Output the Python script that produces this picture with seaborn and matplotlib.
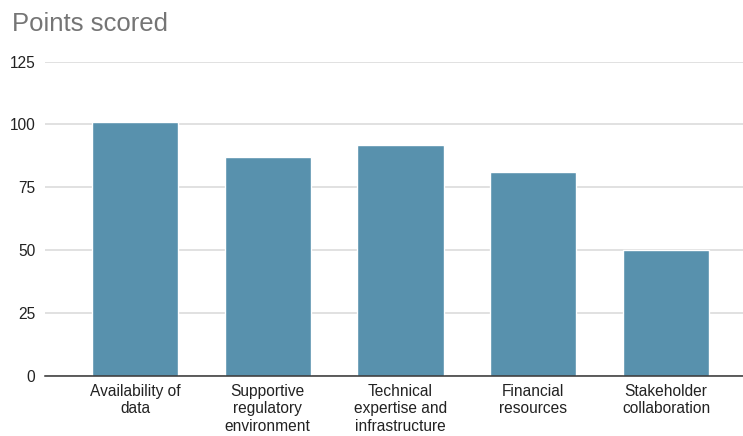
import matplotlib
matplotlib.use("Agg")
import matplotlib.pyplot as plt
import seaborn as sns
import pandas as pd

categories = [
    "Availability of\ndata",
    "Supportive\nregulatory\nenvironment",
    "Technical\nexpertise and\ninfrastructure",
    "Financial\nresources",
    "Stakeholder\ncollaboration",
]
points = [101, 87, 92, 81, 50]
y_ticks = [0, 25, 50, 75, 100, 125]

sns.set_theme(style="white")
plt.rcParams["font.family"] = ["Liberation Sans", "DejaVu Sans"]

df = pd.DataFrame({"category": categories, "points": points})

fig = plt.figure(figsize=(7.43, 4.36), dpi=100)
W, H = 743, 436
ax = fig.add_axes([45 / W, (H - 375.7) / H, (743 - 45) / W, (375.7 - 61.7) / H])

sns.barplot(data=df, x="category", y="points", color="#5891ad", saturation=1,
            width=0.648, ax=ax, zorder=3)

ax.set_xlim(-0.678, 4.58)
ax.set_ylim(0, 125)
ax.set_yticks(y_ticks)
ax.yaxis.grid(True, color="#d9d9d9", linewidth=1.1, zorder=0)
ax.set_axisbelow(True)
for s in ["top", "right", "left"]:
    ax.spines[s].set_visible(False)
ax.spines["bottom"].set_color("#333333")
ax.spines["bottom"].set_linewidth(1.1)
ax.spines["bottom"].set_zorder(4)

ax.set_xlabel("")
ax.set_ylabel("")
ax.tick_params(axis="y", length=0, pad=7, labelsize=11.2, labelcolor="#222222")
ax.tick_params(axis="x", length=0, pad=6, labelsize=11.2, labelcolor="#222222")
for lbl in ax.get_xticklabels():
    lbl.set_linespacing(1.2)
    lbl.set_horizontalalignment("center")

fig.text(12 / W, 1 - 12 / H, "Points scored", fontsize=18.5, color="#757575",
         ha="left", va="top")

fig.savefig("out.png", dpi=100)
